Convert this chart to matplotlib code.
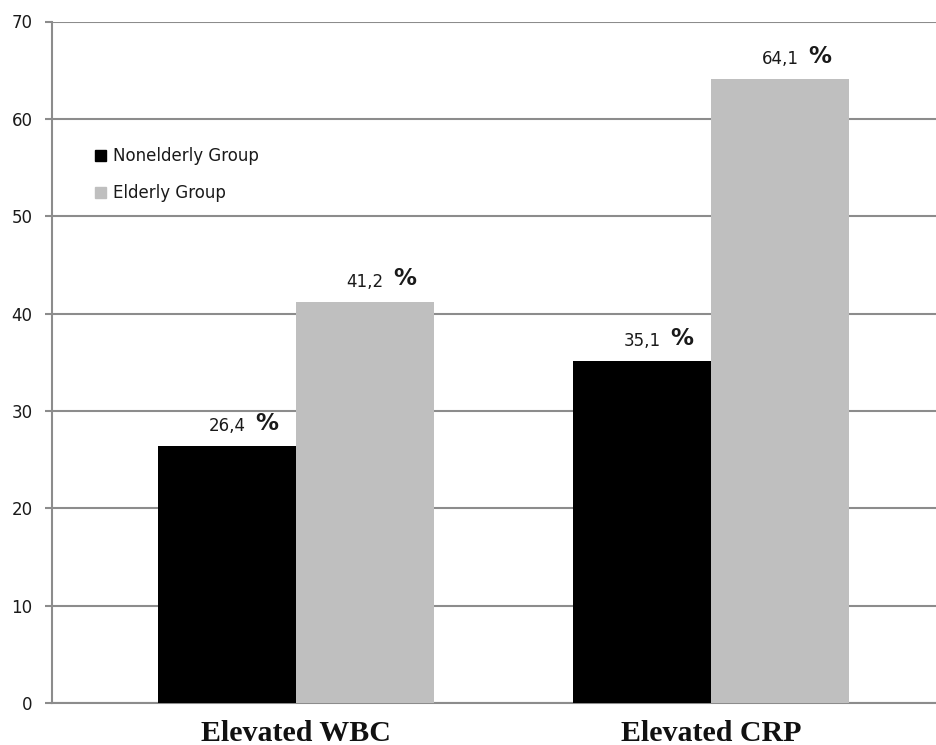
import numpy as np
import matplotlib
matplotlib.use('Agg')
import matplotlib.pyplot as plt
from matplotlib.patches import Patch

#chart data
categories = ['Elevated WBC', 'Elevated CRP']
groups = ['Nonelderly Group', 'Elderly Group']
nonelderly = [26.4, 35.1]
elderly = [41.2, 64.1]
value_labels = [['26,4', '35,1'], ['41,2', '64,1']]
yticks = [0, 10, 20, 30, 40, 50, 60, 70]

colors = ['#000000', '#bfbfbf']
grid_color = '#8c8c8c'

fig = plt.figure(figsize=(9.36, 7.45), dpi=100)
ax = fig.add_axes([52/936, 42/745, 1 - 52/936, 681.5/745])

x = np.arange(len(categories))
width = 0.3325
series = [nonelderly, elderly]
offsets = [-width/2, width/2]

for i, vals in enumerate(series):
    ax.bar(x + offsets[i], vals, width, color=colors[i], zorder=3)
    for j, v in enumerate(vals):
        xc = x[j] + offsets[i]
        ax.annotate(value_labels[i][j], (xc, v), xytext=(0, 14.5),
                    textcoords='offset points', ha='center', va='center',
                    fontsize=12, color='#1a1a1a', family='DejaVu Sans')
        ax.annotate('%', (xc, v), xytext=(20.5, 16.5),
                    textcoords='offset points', ha='left', va='center',
                    fontsize=16.5, fontweight='bold', color='#1a1a1a',
                    family='DejaVu Sans')

ax.set_ylim(0, 70)
ax.set_xlim(-0.588, 1.542)
ax.set_yticks(yticks)
ax.yaxis.grid(True, color=grid_color, linewidth=1.5, zorder=0)
ax.set_axisbelow(True)

ax.set_xticks(x)
ax.set_xticklabels(categories, fontsize=21.5, fontweight='bold',
                   family='Liberation Serif', color='#111111')
ax.tick_params(axis='x', length=0, pad=12)
ax.tick_params(axis='y', length=5, width=1.5, color=grid_color, pad=9,
               labelsize=12, labelcolor='#1a1a1a')

for side in ['top', 'right']:
    ax.spines[side].set_visible(False)
ax.spines['left'].set_color(grid_color)
ax.spines['left'].set_linewidth(1.5)
ax.spines['bottom'].set_color(grid_color)
ax.spines['bottom'].set_linewidth(1.5)

handles = [Patch(color=c) for c in colors]
ax.legend(handles, groups, loc='upper left', bbox_to_anchor=(80/936, 1 - 132/745),
          bbox_transform=fig.transFigure, frameon=False, fontsize=12,
          handlelength=0.65, handleheight=0.65, handletextpad=0.45,
          labelspacing=1.15, labelcolor='#1a1a1a')

plt.savefig('out.png', dpi=100)
